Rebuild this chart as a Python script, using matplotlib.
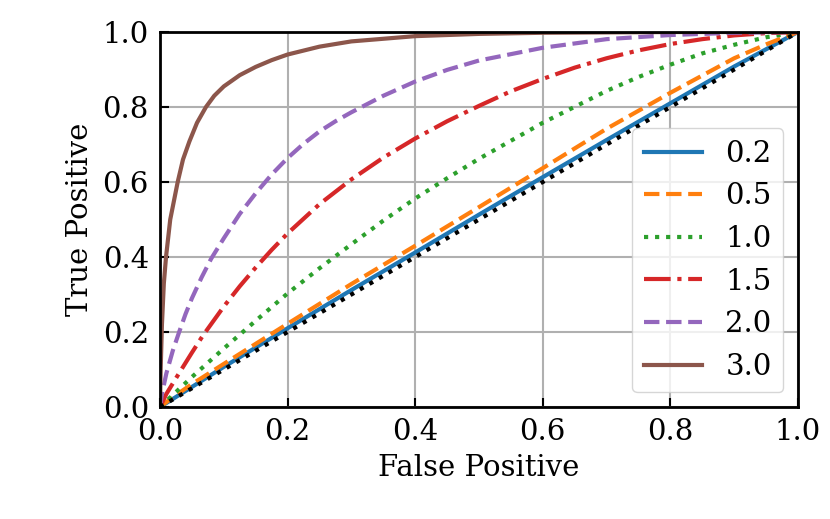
import matplotlib
matplotlib.use("Agg")
import matplotlib.pyplot as plt

# values (false positive -> true positive)
labels = ["0.2", "0.5", "1.0", "1.5", "2.0", "3.0"]

fp_02 = [0, 0.1, 0.2, 0.3, 0.4, 0.5, 0.6, 0.7, 0.8, 0.9, 1.0]
tp_02 = [0, 0.107, 0.21, 0.312, 0.412, 0.513, 0.613, 0.712, 0.81, 0.908, 1.0]

fp_05 = [0, 0.02, 0.05, 0.1, 0.2, 0.3, 0.4, 0.5, 0.6, 0.7, 0.8, 0.9, 0.95, 1.0]
tp_05 = [0, 0.026, 0.061, 0.115, 0.222, 0.328, 0.43, 0.533, 0.637, 0.742, 0.838, 0.93, 0.967, 1.0]

fp_10 = [0, 0.02, 0.05, 0.1, 0.15, 0.2, 0.25, 0.3, 0.35, 0.4, 0.45, 0.5, 0.6, 0.7, 0.75, 0.8, 0.85, 0.9, 0.95, 1.0]
tp_10 = [0, 0.032, 0.08, 0.156, 0.23, 0.303, 0.37, 0.434, 0.497, 0.556, 0.61, 0.662, 0.758, 0.843, 0.88, 0.913, 0.943, 0.966, 0.986, 1.0]

fp_15 = [0, 0.01, 0.028, 0.05, 0.067, 0.1, 0.125, 0.15, 0.175, 0.2, 0.25, 0.3, 0.35, 0.4, 0.45,
         0.5, 0.55, 0.6, 0.65, 0.7, 0.75, 0.8, 0.85, 0.9, 0.95, 1.0]
tp_15 = [0, 0.035, 0.085, 0.145, 0.19, 0.268, 0.322, 0.372, 0.419, 0.463, 0.541, 0.607, 0.665, 0.716, 0.762,
         0.803, 0.842, 0.875, 0.905, 0.93, 0.951, 0.968, 0.981, 0.991, 0.997, 1.0]

fp_20 = [0, 0.003, 0.01, 0.02, 0.03, 0.04, 0.05, 0.065, 0.08, 0.1, 0.125, 0.15, 0.175, 0.2, 0.225, 0.25,
         0.275, 0.3, 0.35, 0.4, 0.45, 0.5, 0.6, 0.7, 0.8, 0.9, 1.0]
tp_20 = [0, 0.035, 0.09, 0.15, 0.2, 0.248, 0.29, 0.345, 0.395, 0.45, 0.515, 0.57, 0.62, 0.664, 0.702, 0.735,
         0.762, 0.786, 0.83, 0.868, 0.899, 0.924, 0.958, 0.981, 0.992, 0.998, 1.0]

fp_30 = [0, 0.001, 0.003, 0.006, 0.0094, 0.016, 0.0277, 0.036, 0.046, 0.058, 0.072, 0.085, 0.1, 0.125,
         0.15, 0.175, 0.2, 0.25, 0.3, 0.4, 0.5, 0.6, 0.7, 0.8, 1.0]
tp_30 = [0, 0.1, 0.22, 0.33, 0.4, 0.5, 0.6, 0.66, 0.708, 0.758, 0.8, 0.83, 0.855, 0.885,
         0.907, 0.925, 0.94, 0.961, 0.975, 0.989, 0.995, 0.998, 0.999, 1.0, 1.0]

chance = [0, 1]

plt.rcParams["font.family"] = "serif"
plt.rcParams["font.serif"] = ["DejaVu Serif"]
plt.rcParams["font.size"] = 21

fig = plt.figure(figsize=(8.3, 5.19), dpi=100)
ax = fig.add_axes([0.1928, 0.2158, 0.7686, 0.7225])

lw = 3
ax.plot(fp_02, tp_02, color="tab:blue", ls="-", lw=lw, label=labels[0])
ax.plot(fp_05, tp_05, color="tab:orange", ls="--", lw=lw, label=labels[1])
ax.plot(fp_10, tp_10, color="tab:green", ls=":", lw=lw, label=labels[2])
ax.plot(fp_15, tp_15, color="tab:red", ls="-.", lw=lw, label=labels[3])
ax.plot(fp_20, tp_20, color="tab:purple", ls="--", lw=lw, label=labels[4])
ax.plot(fp_30, tp_30, color="tab:brown", ls="-", lw=lw, label=labels[5])
ax.plot(chance, chance, color="black", ls=":", lw=lw)

ax.set_xlim(0, 1)
ax.set_ylim(0, 1)
ax.set_xlabel("False Positive", labelpad=6)
ax.set_ylabel("True Positive", labelpad=6)
ax.grid(True, color="#b0b0b0", lw=1.5)
ax.tick_params(direction="in", length=6.5, width=1.5, pad=8)
for s in ax.spines.values():
    s.set_linewidth(2)

ax.legend(loc="lower right")

fig.savefig("out.png", dpi=100)
